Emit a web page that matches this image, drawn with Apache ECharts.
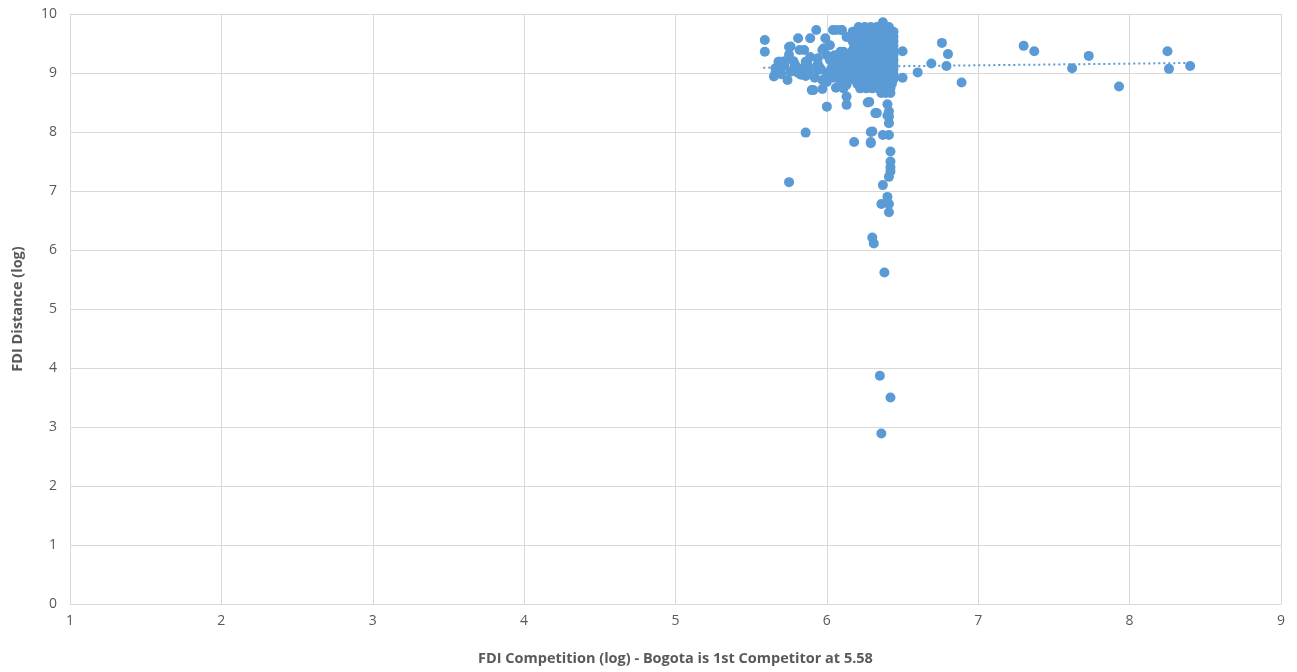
<!DOCTYPE html>
<html>
<head>
<meta charset="utf-8">
<script src="https://cdn.jsdelivr.net/npm/echarts@6/dist/echarts.min.js"></script>
<style>html,body{margin:0;padding:0;background:#fff;}#c{width:1297px;height:672px;}</style>
</head>
<body>
<div id="c"></div>
<script>
// x values: FDI Competition (log); y values: FDI Distance (log)
var outlierX = [5.59,5.59,5.86,5.75,6.18,6.29,6.29,6.28,6.00,6.13,6.13,6.33,6.32,6.41,6.41,6.41,6.30,6.29,6.37,6.41,6.42,6.42,6.42,6.42,6.41,6.37,6.40,6.36,6.41,6.41,6.30,6.31,6.38,6.35,6.42,6.36,6.40,6.40,6.27];
var outlierY = [9.56,9.36,7.99,7.15,7.83,7.83,8.00,8.51,8.43,8.60,8.46,8.32,8.32,8.35,8.26,8.15,8.01,7.81,7.95,7.95,7.67,7.50,7.40,7.33,7.24,7.10,6.90,6.78,6.78,6.64,6.21,6.11,5.62,3.87,3.50,2.89,8.47,8.28,8.50];

var rightX = [6.50,6.50,6.60,6.69,6.76,6.80,6.79,6.89,7.30,7.37,7.62,7.73,7.93,8.25,8.26,8.40];
var rightY = [9.37,8.92,9.01,9.16,9.51,9.32,9.12,8.84,9.46,9.37,9.08,9.29,8.77,9.37,9.07,9.12];

var leftX = [5.93,5.81,5.89,5.99,6.04,6.09,6.13,5.75,5.85,5.97,6.09,5.75,5.69,5.66,5.65,5.74,5.79,5.86,5.94,5.83,5.92,5.97,5.90,5.97,6.00,6.06,6.03,6.08,6.15,6.19,6.21,6.16,6.11,6.06,6.10,6.02,5.98,5.82,5.76,6.11,6.02,5.87,5.68,5.66,5.91,5.68,5.72,5.76,5.80,5.84,5.88,5.92,5.96,6.00,6.04,5.70,5.78,5.86,5.94,6.02,6.00,6.04,5.72,5.81,5.89,5.95,6.05,5.79,5.84,5.90];
var leftY = [9.73,9.59,9.59,9.59,9.73,9.73,9.61,9.44,9.39,9.39,9.36,9.31,9.19,9.08,8.94,8.88,9.14,9.19,9.25,8.97,8.92,8.88,8.71,8.73,8.85,8.75,9.08,9.19,9.08,9.25,9.42,8.92,8.74,9.73,9.73,9.47,9.42,9.39,9.45,9.36,9.25,9.16,9.19,9.00,8.71,9.05,9.12,9.02,9.08,9.04,9.10,9.00,9.06,9.00,9.10,8.98,9.20,8.95,9.15,9.22,9.30,8.92,9.20,9.00,9.27,9.10,9.30,9.12,9.08,8.98];

var blobX = [6.21,6.25,6.29,6.33,6.37,6.41,6.37,
 6.17,6.21,6.25,6.29,6.33,6.37,6.41,6.44,
 6.18,6.22,6.26,6.30,6.34,6.38,6.42,6.44,
 6.17,6.21,6.25,6.29,6.33,6.37,6.41,6.44,
 6.18,6.22,6.26,6.30,6.34,6.38,6.42,6.44,
 6.17,6.21,6.25,6.29,6.33,6.37,6.41,6.44,
 6.18,6.22,6.26,6.30,6.34,6.38,6.42,6.44,
 6.17,6.21,6.25,6.29,6.33,6.37,6.41,6.44,
 6.18,6.22,6.26,6.30,6.34,6.38,6.42,6.44,
 6.17,6.21,6.25,6.29,6.33,6.37,6.41,6.44,
 6.18,6.22,6.26,6.30,6.34,6.38,6.42,6.44,
 6.17,6.21,6.25,6.29,6.33,6.37,6.41,6.44,
 6.20,6.24,6.28,6.32,6.36,6.40,6.43,
 6.22,6.26,6.30,6.34,6.38,6.42,
 6.36,6.39,6.42,
 6.07,6.11,6.14,6.07,6.11,6.14,6.07,6.11,6.14,6.07,6.11,6.14,6.08,6.12,6.14,6.09,6.13];
var blobY = [9.78,9.78,9.78,9.78,9.78,9.78,9.86,
 9.70,9.70,9.70,9.70,9.70,9.70,9.70,9.70,
 9.62,9.62,9.62,9.62,9.62,9.62,9.62,9.62,
 9.54,9.54,9.54,9.54,9.54,9.54,9.54,9.54,
 9.46,9.46,9.46,9.46,9.46,9.46,9.46,9.46,
 9.38,9.38,9.38,9.38,9.38,9.38,9.38,9.38,
 9.30,9.30,9.30,9.30,9.30,9.30,9.30,9.30,
 9.22,9.22,9.22,9.22,9.22,9.22,9.22,9.22,
 9.14,9.14,9.14,9.14,9.14,9.14,9.14,9.14,
 9.06,9.06,9.06,9.06,9.06,9.06,9.06,9.06,
 8.98,8.98,8.98,8.98,8.98,8.98,8.98,8.98,
 8.90,8.90,8.90,8.90,8.90,8.90,8.90,8.90,
 8.82,8.82,8.82,8.82,8.82,8.82,8.82,
 8.74,8.74,8.74,8.74,8.74,8.74,
 8.66,8.66,8.66,
 9.30,9.30,9.30,9.20,9.20,9.20,9.10,9.10,9.10,9.00,9.00,9.00,8.90,8.90,8.90,8.80,8.80];

// Linear trendline end points
var trendX = [5.58, 8.40];
var trendY = [9.09, 9.17];

var xTicks = [1,2,3,4,5,6,7,8,9];
var yTicks = [0,1,2,3,4,5,6,7,8,9,10];

function pairs(xs, ys){ var out=[]; for (var i=0;i<xs.length;i++) out.push([xs[i], ys[i]]); return out; }
var allPoints = pairs(blobX, blobY).concat(pairs(leftX, leftY), pairs(rightX, rightY), pairs(outlierX, outlierY));

var chart = echarts.init(document.getElementById('c'), null, {renderer:'canvas'});
var gridColor = '#d9d9d9';
var textColor = '#595959';
var font = '"Open Sans", "Liberation Sans", sans-serif';
chart.setOption({
  animation: false,
  grid: {left: 70, right: 16, top: 14, bottom: 68, containLabel: false, outerBoundsMode: 'none'},
  xAxis: {
    type: 'value', min: xTicks[0], max: xTicks[xTicks.length-1], interval: 1,
    name: 'FDI Competition (log) - Bogota is 1st Competitor at 5.58',
    nameLocation: 'middle', nameGap: 47,
    nameTextStyle: {color: textColor, fontSize: 14.5, fontWeight: 'bold', fontFamily: font},
    axisLine: {show: true, lineStyle: {color: gridColor, width: 1}},
    axisTick: {show: false},
    axisLabel: {color: textColor, fontSize: 14, fontFamily: font, margin: 10},
    splitLine: {show: true, lineStyle: {color: gridColor, width: 1}}
  },
  yAxis: {
    type: 'value', min: yTicks[0], max: yTicks[yTicks.length-1], interval: 1,
    name: 'FDI Distance (log)',
    nameLocation: 'middle', nameGap: 45,
    nameTextStyle: {color: textColor, fontSize: 14.5, fontWeight: 'bold', fontFamily: font},
    axisLine: {show: true, lineStyle: {color: gridColor, width: 1}},
    axisTick: {show: false},
    axisLabel: {color: textColor, fontSize: 14, fontFamily: font, margin: 13},
    splitLine: {show: true, lineStyle: {color: gridColor, width: 1}}
  },
  series: [
    {
      type: 'scatter', data: allPoints, symbolSize: 10,
      itemStyle: {color: '#5b9bd5', opacity: 1}
    },
    {
      type: 'line', data: pairs(trendX, trendY), symbol: 'none', z: 3,
      lineStyle: {color: '#5b9bd5', width: 2, type: [2, 3]}
    }
  ]
});
</script>
</body>
</html>
